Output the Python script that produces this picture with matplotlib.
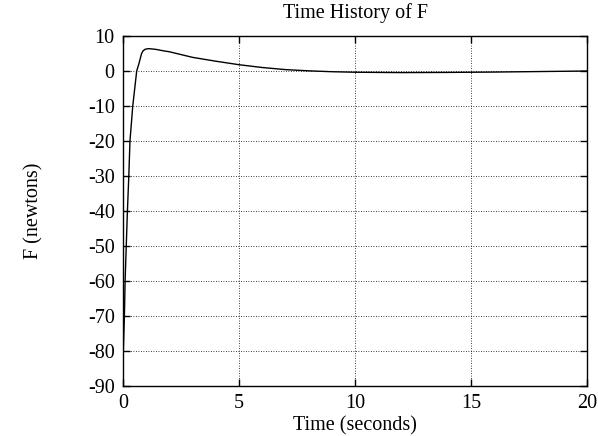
import matplotlib
matplotlib.use('Agg')
from matplotlib import pyplot as plt

# valores
time_s = [0, 0.06, 0.09, 0.14, 0.19, 0.25, 0.3, 0.42, 0.59, 0.69, 0.8, 0.87,
          0.95, 1.1, 1.4, 1.8, 2, 3, 4, 5, 6, 7, 8, 9, 10, 12, 14, 16, 18, 20]
force_n = [-83, -70, -60, -50, -40, -30, -20, -10, 0, 2.2, 5.0, 5.8,
           6.2, 6.4, 6.2, 5.7, 5.5, 3.9, 2.8, 1.8, 1.0, 0.4, 0.05, -0.2,
           -0.35, -0.45, -0.4, -0.3, -0.15, 0]

xticks = [0, 5, 10, 15, 20]
yticks = list(range(-90, 11, 10))

plt.rcParams['font.family'] = ['Liberation Serif', 'DejaVu Serif']
plt.rcParams['font.size'] = 14.5
plt.rcParams['axes.unicode_minus'] = False

fig = plt.figure(figsize=(5.98, 4.36), dpi=100)
ax = fig.add_axes([0.2057, 0.1147, 0.7759, 0.8027])

ax.plot(time_s, force_n, color='black', linewidth=1.0)

ax.set_xlim(0, 20)
ax.set_ylim(-90, 10)
ax.set_xticks(xticks)
ax.set_yticks(yticks)
ax.tick_params(direction='in', top=True, right=True, length=5, width=1,
               pad=6, labelsize=14.5)
ax.grid(True, color='black', linestyle=(0, (1, 2)), linewidth=0.6)
for s in ax.spines.values():
    s.set_linewidth(1.0)

ax.set_title('Time History of F', fontsize=14.5, pad=13)
ax.set_xlabel('Time (seconds)', fontsize=14.5, labelpad=2)
ax.set_ylabel('F (newtons)', fontsize=14.5, labelpad=32)

fig.savefig('out.png', dpi=100)
